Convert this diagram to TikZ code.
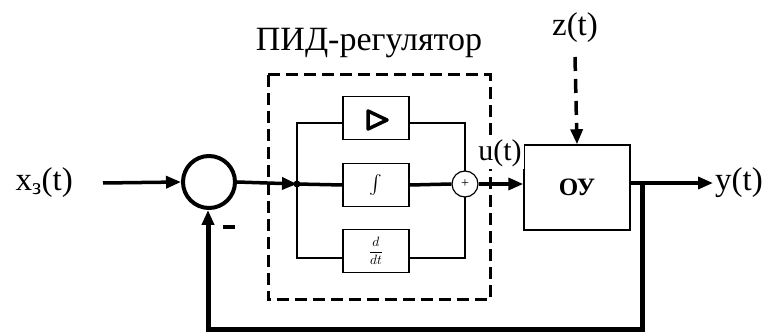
\documentclass[tikz,border=0pt]{standalone}
\usepackage{graphicx}
\usepackage{fontspec}
\setmainfont{Liberation Serif}
\usetikzlibrary{arrows.meta}
\begin{document}
\begin{tikzpicture}[x=1pt,y=-1pt,
  main/.style={line width=3.5pt},
  thin/.style={line width=1.5pt},
  tip/.style={-{Triangle[length=15pt,width=12pt]}},
  blk/.style={draw,line width=1.5pt,minimum width=66pt,minimum height=43pt,inner sep=0pt},
  lbl/.style={font=\rmfamily\fontsize{33}{38}\selectfont,inner sep=0pt}]
\useasboundingbox (0,0) rectangle (766,336);

% controller frame and caption
\draw[line width=3pt,dash pattern=on 12pt off 6pt] (268,75) rectangle (490,300);
\node[lbl,font=\rmfamily\fontsize{34}{38}\selectfont] (title) at (369,43) {ПИД-регулятор};

% summing junction and input
\node[draw,circle,line width=4pt,minimum size=52pt,inner sep=0pt] (sum) at (209,182) {};
\coordinate (in) at (103,183);
\node[lbl,anchor=east] (xin) at (73,183) {x\textsubscript{з}(t)};
\draw[main,tip] (in) -- (sum.west);

% branch point
\coordinate (jn) at (297,184);
\draw[main,tip] (sum.east) -- (jn);
\fill (jn) circle (3.5pt);

% P, I, D blocks
\node[blk] (P) at (376,118) {};
\node[blk] (I) at (376,185) {};
\node[blk] (D) at (376,251) {};
\draw[line width=3.5pt,line join=round] (368,111) -- (387,120) -- (368,129) -- cycle;
\node[inner sep=0pt] (Itxt) at (I) {\scalebox{1.9}{$\int$}};
\node[inner sep=0pt] (Dtxt) at (D) {\scalebox{1.35}{$\displaystyle\frac{d}{dt}$}};

% parallel paths
\coordinate (lt) at (297,123);
\coordinate (lb) at (297,258);
\coordinate (rt) at (465,123);
\coordinate (rb) at (465,258);
\draw[thin] (P.west |- lt) -- (lt) -- (lb) -- (D.west |- lb);
\draw[thin] (P.east |- rt) -- (rt) -- (rb) -- (D.east |- rb);
\draw[main] (jn) -- (I.west);
\node[draw,circle,fill=white,line width=1.2pt,minimum size=26pt,inner sep=0pt,
      font=\fontsize{14}{16}\selectfont] (plus) at (465,184) {+};
\draw[main] (I.east) -- (plus.west);

% plant
\node[draw,line width=1.5pt,minimum width=106pt,minimum height=85pt,inner sep=0pt,
      font=\rmfamily\fontsize{25}{28}\selectfont\bfseries] (OU) at (577,187.5) {ОУ};
\draw[main,tip] (plus.east) -- (OU.west |- plus.east);
\node[lbl,fill=white,inner sep=2pt,font=\rmfamily\fontsize{30}{34}\selectfont] (u) at (500,153) {u(t)};

% disturbance
\node[lbl] (z) at (575,28) {z(t)};
\coordinate (zs) at (575,57);
\draw[main,tip,dash pattern=on 14pt off 8pt] (zs) -- (OU.north);

% output
\coordinate (yout) at (713,183);
\draw[main,tip] (OU.east |- yout) -- (yout);
\node[lbl,anchor=west] (y) at (715,183) {y(t)};

% feedback
\coordinate (fb) at (642,183);
\coordinate (fr) at (642,330);
\coordinate (fl) at (208,330);
\draw[line width=5pt,tip] (fb) -- (fr) -- (fl) -- (sum.south -| fl);
\node[inner sep=0pt] (minus) at (229,227) {\rule{12pt}{4pt}};
\end{tikzpicture}
\end{document}
